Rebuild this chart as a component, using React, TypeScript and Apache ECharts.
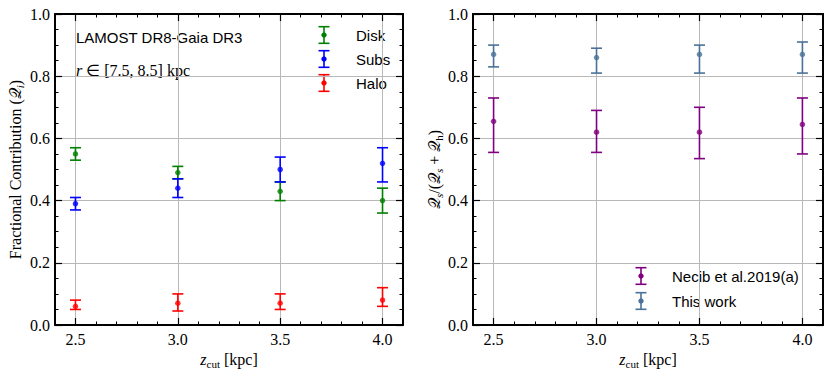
import React, { useEffect, useRef } from 'react';
import * as echarts from 'echarts';

// ---- data ----
const zcut = [2.5, 3.0, 3.5, 4.0];

const diskVal = [0.55, 0.49, 0.43, 0.40];
const diskLo = [0.53, 0.47, 0.40, 0.36];
const diskHi = [0.57, 0.51, 0.46, 0.44];

const subsVal = [0.39, 0.44, 0.50, 0.52];
const subsLo = [0.37, 0.41, 0.46, 0.46];
const subsHi = [0.41, 0.47, 0.54, 0.57];

const haloVal = [0.06, 0.07, 0.07, 0.08];
const haloLo = [0.05, 0.045, 0.05, 0.06];
const haloHi = [0.08, 0.10, 0.10, 0.12];

const necibVal = [0.655, 0.62, 0.62, 0.645];
const necibLo = [0.555, 0.555, 0.535, 0.55];
const necibHi = [0.73, 0.69, 0.70, 0.73];

const workVal = [0.87, 0.86, 0.87, 0.87];
const workLo = [0.83, 0.81, 0.81, 0.81];
const workHi = [0.90, 0.89, 0.90, 0.91];

const xMajorTicks = [2.5, 3.0, 3.5, 4.0];
const xMinorTicks = [2.6, 2.7, 2.8, 2.9, 3.1, 3.2, 3.3, 3.4, 3.6, 3.7, 3.8, 3.9];

const leftLegend = ['Disk', 'Subs', 'Halo'];
const rightLegend = ['Necib et al.2019(a)', 'This work'];

// ---- styles ----
const SERIF = 'Liberation Serif';
const SANS = 'Liberation Sans';
const C_DISK = '#008000';
const C_SUBS = '#0000ff';
const C_HALO = '#ff0000';
const C_NECIB = '#800080';
const C_WORK = '#4a7298';
const GRID_C = '#b8b8b8';

const Q = '𝒬';

function xAxesFor(gridIndex: number, name: any) {
  const common = { type: 'value', gridIndex, min: 2.4, max: 4.1, splitNumber: 3 };
  return [
    {
      ...common,
      position: 'bottom',
      axisLine: { show: true, onZero: false, lineStyle: { color: '#000', width: 2 } },
      axisTick: { show: true, inside: true, length: 7, customValues: xMajorTicks, lineStyle: { color: '#000', width: 1.2 } },
      axisLabel: {
        show: true, customValues: xMajorTicks, margin: 6,
        formatter: (v: number) => v.toFixed(1),
        fontFamily: SERIF, fontSize: 16, color: '#000',
      },
      splitLine: { show: true, lineStyle: { color: GRID_C, width: 1 } },
      name,
      nameLocation: 'middle',
      nameGap: 24,
      nameTextStyle: {
        fontFamily: SERIF, fontSize: 16, color: '#000',
        rich: {
          i: { fontFamily: SERIF, fontStyle: 'italic', fontSize: 16, color: '#000' },
          sub: { fontFamily: SERIF, fontSize: 11, color: '#000', padding: [8, 0, 0, 0] },
          n: { fontFamily: SERIF, fontSize: 16, color: '#000' },
        },
      },
    },
    {
      ...common,
      position: 'bottom',
      axisLine: { show: false, onZero: false },
      axisTick: { show: true, inside: true, length: 3.5, customValues: xMinorTicks, lineStyle: { color: '#000', width: 1 } },
      axisLabel: { show: false },
      splitLine: { show: false },
    },
    {
      ...common,
      position: 'top',
      axisLine: { show: true, onZero: false, lineStyle: { color: '#000', width: 2 } },
      axisTick: { show: true, inside: true, length: 7, customValues: xMajorTicks, lineStyle: { color: '#000', width: 1.2 } },
      axisLabel: { show: false },
      splitLine: { show: false },
    },
    {
      ...common,
      position: 'top',
      axisLine: { show: false, onZero: false },
      axisTick: { show: true, inside: true, length: 3.5, customValues: xMinorTicks, lineStyle: { color: '#000', width: 1 } },
      axisLabel: { show: false },
      splitLine: { show: false },
    },
  ];
}

function yAxesFor(gridIndex: number, name: any, nameGap: number) {
  const common = {
    type: 'value', gridIndex, min: 0, max: 1, interval: 0.2,
    axisLine: { show: true, onZero: false, lineStyle: { color: '#000', width: 2 } },
    axisTick: { show: true, inside: true, length: 7, lineStyle: { color: '#000', width: 1.2 } },
    minorTick: { show: true, splitNumber: 4, length: 3.5, lineStyle: { color: '#000', width: 1 } },
  };
  return [
    {
      ...common,
      position: 'left',
      axisLabel: {
        show: true, margin: 5,
        formatter: (v: number) => v.toFixed(1),
        fontFamily: SERIF, fontSize: 16, color: '#000',
      },
      splitLine: { show: true, showMinLine: false, showMaxLine: false, lineStyle: { color: GRID_C, width: 1 } },
      name,
      nameLocation: 'middle',
      nameRotate: 90,
      nameGap,
      nameTextStyle: {
        fontFamily: SERIF, fontSize: 16, color: '#000',
        rich: {
          q: { fontFamily: SERIF, fontSize: 16, color: '#000' },
          i: { fontFamily: SERIF, fontStyle: 'italic', fontSize: 11, color: '#000', padding: [8, 0, 0, 0] },
          sub: { fontFamily: SERIF, fontSize: 11, color: '#000', padding: [8, 0, 0, 0] },
          n: { fontFamily: SERIF, fontSize: 16, color: '#000' },
        },
      },
    },
    {
      ...common,
      position: 'right',
      axisLabel: { show: false },
      splitLine: { show: false },
    },
  ];
}

function errSeries(name: string, color: string, lo: number[], hi: number[], xi: number, yi: number) {
  return {
    type: 'custom',
    name,
    xAxisIndex: xi,
    yAxisIndex: yi,
    encode: { x: 0, y: [1, 2] },
    data: zcut.map((x, i) => [x, lo[i], hi[i]]),
    renderItem: (params: any, api: any) => {
      const x = api.value(0);
      const a = api.coord([x, api.value(1)]);
      const b = api.coord([x, api.value(2)]);
      const w = 5.5;
      const style = { stroke: color, lineWidth: 1.6, fill: 'none' };
      return {
        type: 'group',
        children: [
          { type: 'line', shape: { x1: a[0], y1: a[1], x2: b[0], y2: b[1] }, style },
          { type: 'line', shape: { x1: a[0] - w, y1: a[1], x2: a[0] + w, y2: a[1] }, style },
          { type: 'line', shape: { x1: b[0] - w, y1: b[1], x2: b[0] + w, y2: b[1] }, style },
        ],
      };
    },
  };
}

function pointSeries(name: string, color: string, vals: number[], xi: number, yi: number) {
  return {
    type: 'scatter',
    name,
    xAxisIndex: xi,
    yAxisIndex: yi,
    symbol: 'circle',
    symbolSize: 5.5,
    itemStyle: { color },
    data: zcut.map((x, i) => [x, vals[i]]),
  };
}

function legendItem(cx: number, cy: number, color: string, label: string, tx: number) {
  const st = { stroke: color, lineWidth: 1.6 };
  const h = 8.3;
  const w = 5.5;
  return [
    { type: 'line', shape: { x1: cx, y1: cy - h, x2: cx, y2: cy + h }, style: st },
    { type: 'line', shape: { x1: cx - w, y1: cy - h, x2: cx + w, y2: cy - h }, style: st },
    { type: 'line', shape: { x1: cx - w, y1: cy + h, x2: cx + w, y2: cy + h }, style: st },
    { type: 'circle', shape: { cx, cy, r: 2.7 }, style: { fill: color } },
    {
      type: 'text', x: tx, y: cy,
      style: { text: label, fontFamily: SANS, fontSize: 15, fill: '#000', align: 'left', verticalAlign: 'middle' },
    },
  ];
}

export default function App() {
  const ref = useRef<HTMLDivElement>(null);
  useEffect(() => {
    if (!ref.current) return;
    const chart = echarts.init(ref.current, null, { renderer: 'svg' });
    const xName = '{i|z}{sub|cut}{n| [kpc]}';
    const yNameL = `{n|Fractional Contribution (}{q|${Q}}{i|i}{n|)}`;
    const yNameR = `{q|${Q}}{i|s}{n|/(}{q|${Q}}{i|s}{n| + }{q|${Q}}{sub|h}{n|)}`;

    const option: any = {
      animation: false,
      backgroundColor: '#fff',
      textStyle: { fontFamily: SERIF },
      grid: [
        { left: 55, top: 14, width: 348, height: 311, show: false },
        { left: 473, top: 14, width: 350, height: 311, show: false },
      ],
      xAxis: [...xAxesFor(0, xName), ...xAxesFor(1, xName)],
      yAxis: [...yAxesFor(0, yNameL, 30), ...yAxesFor(1, yNameR, 28)],
      series: [
        errSeries('Disk', C_DISK, diskLo, diskHi, 0, 0),
        pointSeries('Disk', C_DISK, diskVal, 0, 0),
        errSeries('Subs', C_SUBS, subsLo, subsHi, 0, 0),
        pointSeries('Subs', C_SUBS, subsVal, 0, 0),
        errSeries('Halo', C_HALO, haloLo, haloHi, 0, 0),
        pointSeries('Halo', C_HALO, haloVal, 0, 0),
        errSeries('Necib et al.2019(a)', C_NECIB, necibLo, necibHi, 4, 2),
        pointSeries('Necib et al.2019(a)', C_NECIB, necibVal, 4, 2),
        errSeries('This work', C_WORK, workLo, workHi, 4, 2),
        pointSeries('This work', C_WORK, workVal, 4, 2),
      ],
      graphic: [
        {
          type: 'text', left: 76, top: 30,
          style: { text: 'LAMOST DR8-Gaia DR3', fontFamily: SANS, fontSize: 15, fill: '#000' },
        },
        {
          type: 'text', left: 76, top: 62,
          style: {
            text: '{i|r} ∈ [7.5, 8.5] kpc',
            fontFamily: SERIF, fontSize: 16, fill: '#000',
            rich: { i: { fontFamily: SERIF, fontStyle: 'italic', fontSize: 16, fill: '#000' } },
          },
        },
        ...legendItem(324, 35, C_DISK, leftLegend[0], 356),
        ...legendItem(324, 59, C_SUBS, leftLegend[1], 356),
        ...legendItem(324, 83, C_HALO, leftLegend[2], 356),
        ...legendItem(641, 276, C_NECIB, rightLegend[0], 672),
        ...legendItem(641, 301, C_WORK, rightLegend[1], 672),
      ],
    };
    chart.setOption(option);
    return () => chart.dispose();
  }, []);
  return (
    <div
      ref={ref}
      style={{ position: 'fixed', left: 0, top: 0, width: 831, height: 375, background: '#fff' }}
    />
  );
}
